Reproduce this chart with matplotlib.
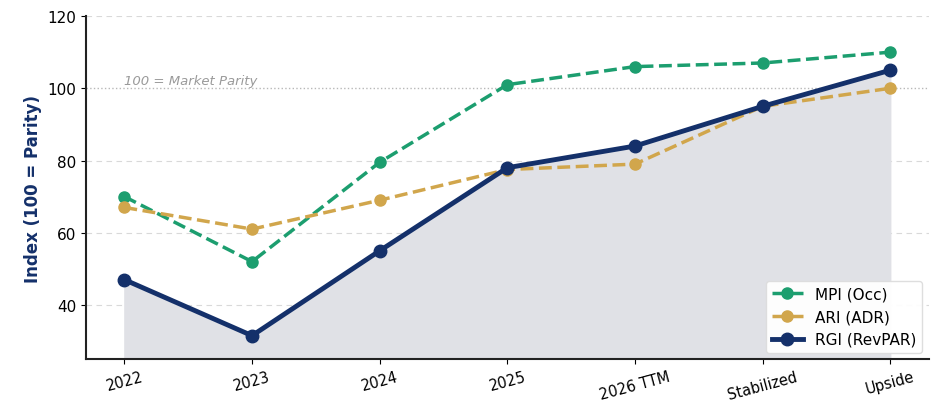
import matplotlib
matplotlib.use("Agg")
import matplotlib.pyplot as plt
import numpy as np

categories = ["2022", "2023", "2024", "2025", "2026 TTM", "Stabilized", "Upside"]
mpi = [70, 52, 79.5, 101, 106, 107, 110]
ari = [67, 61, 69, 77.5, 79, 95, 100]
rgi = [47, 31.5, 55, 78, 84, 95, 105]

GREEN = "#1c9e6f"
GOLD = "#d1a64c"
NAVY = "#14306a"

fig, ax = plt.subplots(figsize=(9.36, 4.06), dpi=100)
fig.subplots_adjust(left=0.092, right=0.992, top=0.958, bottom=0.113)

x = np.arange(len(categories))
ax.set_xlim(-0.3, 6.3)
ax.set_ylim(25, 120)

for yv in [40, 60, 80, 120]:
    ax.axhline(yv, color="#d9d9d9", lw=0.8, ls=(0, (5, 4)), zorder=0)
ax.axhline(100, color="#b8b8b8", lw=1.0, ls=":", zorder=1)
ax.text(0, 100.4, "100 = Market Parity", fontsize=9.5, style="italic", color="#9a9a9a",
        ha="left", va="bottom")

ax.fill_between(x, rgi, 25, color="#e0e1e6", zorder=1)

ax.plot(x, mpi, color=GREEN, lw=2.5, ls="--", marker="o", ms=8, label="MPI (Occ)", zorder=3)
ax.plot(x, ari, color=GOLD, lw=2.5, ls="--", marker="o", ms=8, label="ARI (ADR)", zorder=3)
ax.plot(x, rgi, color=NAVY, lw=3.5, marker="o", ms=9, label="RGI (RevPAR)", zorder=4)

ax.set_xticks(x)
ax.set_xticklabels(categories, rotation=15, fontsize=10.5)
ax.set_yticks([40, 60, 80, 100, 120])
ax.tick_params(axis="y", labelsize=11)
ax.set_ylabel("Index (100 = Parity)", fontsize=12, fontweight="bold", color=NAVY)

for s in ["top", "right"]:
    ax.spines[s].set_visible(False)
for s in ["left", "bottom"]:
    ax.spines[s].set_linewidth(1.5)
    ax.spines[s].set_color("#222222")

ax.legend(loc="lower right", fontsize=11, framealpha=0.95, edgecolor="#dddddd",
          borderaxespad=0.4)

fig.savefig("out.png", dpi=100)
